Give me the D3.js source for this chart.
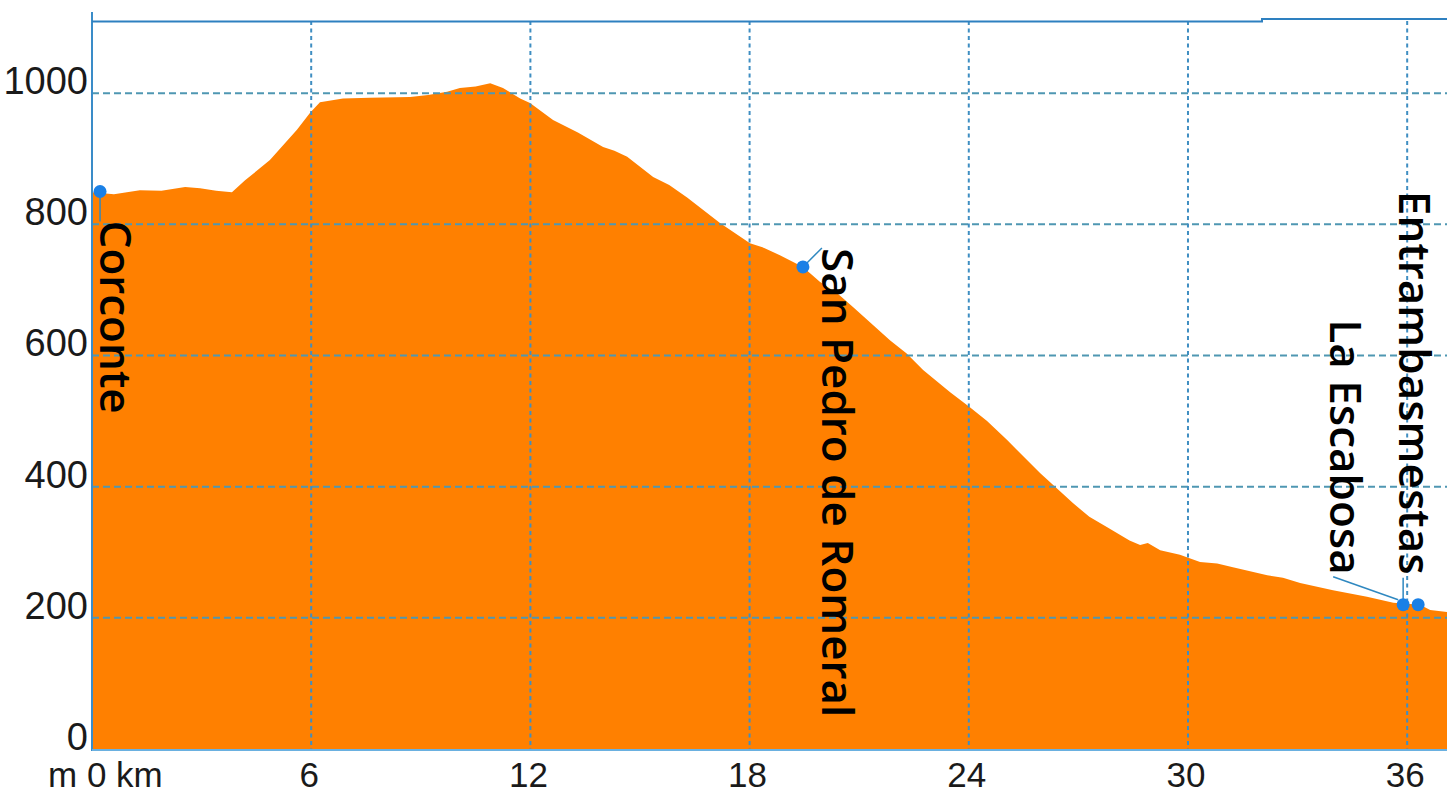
<!DOCTYPE html>
<html>
<head>
<meta charset="utf-8">
<script src="https://cdn.jsdelivr.net/npm/d3@7"></script>
<style>
  html, body { margin: 0; padding: 0; background: #ffffff; }
  svg { display: block; }
</style>
</head>
<body>
<svg id="chart" width="1447" height="794"></svg>
<script>
// ---- data ----
const distanceKm = [0, 0.6, 1.31, 1.9, 2.55, 2.96, 3.4, 3.83, 4.19, 4.87, 5.61, 5.97, 6.24, 6.87, 7.6, 8.71, 9.2, 9.72, 10.07, 10.5, 10.9, 11.25, 11.72, 11.99, 12.62, 13.3, 13.99, 14.3, 14.65, 15.36, 15.8, 16.29, 17.19, 18.01, 18.4, 18.83, 19.46, 19.93, 20.4, 20.83, 21.85, 22.3, 22.75, 23.49, 24.03, 24.5, 25.05, 25.95, 26.85, 27.3, 27.79, 28.4, 28.69, 28.9, 29.24, 29.78, 30.33, 30.8, 31.23, 32.17, 32.6, 33.07, 33.97, 34.9, 35.62, 36.35, 36.63, 37.09];
const elevationM = [849, 846, 852, 851, 857, 855, 851, 849, 867, 898, 944, 970, 986, 992, 993, 994, 997, 1002, 1008, 1010, 1015, 1008, 992, 985, 959, 940, 918, 912, 903, 872, 860, 841, 802, 771, 764, 753, 735, 712, 695, 674, 623, 603, 578, 544, 521, 500, 471, 421, 375, 354, 338, 318, 311, 314, 303, 296, 285, 283, 277, 265, 261, 253, 242, 232, 223, 220, 212, 209];
const yTicks = [0, 200, 400, 600, 800, 1000];
const yTickLabels = ["0", "200", "400", "600", "800", "1000"];
const xTicks = [0, 6, 12, 18, 24, 30, 36];
const xTickLabels = ["m 0 km", "6", "12", "18", "24", "30", "36"];
const placeNames = ["Corconte", "San Pedro de Romeral", "La Escabosa", "Entrambasmestas"];
const placeKm = [0.22, 19.46, 35.89, 36.3];
const placeElev = [850, 735, 220, 220];

// ---- layout ----
const W = 1447, H = 794;
const x = d3.scaleLinear().domain([0, 37.09]).range([92, 1447]);
const y = d3.scaleLinear().domain([0, 1110]).range([749, 21]);
const svg = d3.select("#chart");

const profile = distanceKm.map((d, i) => ({ km: d, m: elevationM[i] }));

// area fill
svg.append("path")
  .datum(profile)
  .attr("fill", "#ff8000")
  .attr("d", d3.area().x(d => x(d.km)).y0(y(0)).y1(d => y(d.m)));

// grid lines
svg.append("g").selectAll("line").data(yTicks.filter(t => t > 0)).join("line")
  .attr("x1", x(0)).attr("x2", W)
  .attr("y1", d => y(d)).attr("y2", d => y(d))
  .attr("stroke", "#4f97b2").attr("stroke-width", 2)
  .attr("stroke-dasharray", "7,4");
svg.append("g").selectAll("line").data(xTicks.filter(t => t > 0)).join("line")
  .attr("x1", d => x(d)).attr("x2", d => x(d))
  .attr("y1", y(1110)).attr("y2", y(0))
  .attr("stroke", "#3f8ec2").attr("stroke-width", 2)
  .attr("stroke-dasharray", "4,3.5");

// frame
svg.append("line").attr("x1", x(0)).attr("x2", x(0)).attr("y1", 12).attr("y2", 751)
  .attr("stroke", "#3a8cc8").attr("stroke-width", 2);
svg.append("path")
  .attr("d", `M${x(0)},${y(1110) + 0.5}H1262V${y(1110) - 2}H${W}`)
  .attr("fill", "none").attr("stroke", "#2e80c0").attr("stroke-width", 2);
svg.append("line").attr("x1", x(0)).attr("x2", W).attr("y1", y(0) + 1).attr("y2", y(0) + 1)
  .attr("stroke", "#6ab0e0").attr("stroke-width", 2);

// y tick labels
svg.append("g").selectAll("text").data(yTicks).join("text")
  .attr("x", 88).attr("y", d => y(d) + 1)
  .attr("text-anchor", "end")
  .attr("font-family", "Liberation Sans, Arial, sans-serif")
  .attr("font-size", 38).attr("fill", "#1a1a1a")
  .text((d, i) => yTickLabels[i]);

// x tick labels
svg.append("g").selectAll("text").data(xTicks).join("text")
  .attr("x", d => d === 0 ? x(d) - 44 : x(d) - 2)
  .attr("y", 787)
  .attr("text-anchor", d => d === 0 ? "start" : "middle")
  .attr("font-family", "Liberation Sans, Arial, sans-serif")
  .attr("font-size", 35).attr("fill", "#1a1a1a")
  .text((d, i) => xTickLabels[i]);

// place labels layout (pixel offsets from the marker)
const labelLayout = [
  { dx: 0, dy: 29, anchor: "start", lead: [[0, 0], [0, 30]] },
  { dx: 19, dy: -19, anchor: "start", lead: [[0, 0], [19, -19]] },
  { dx: -73, dy: -30, anchor: "end", lead: [[-5, -5], [-70, -28]] },
  { dx: -19, dy: -30, anchor: "end", lead: [[-15, -5], [-15, -27]] }
];
const places = placeNames.map((n, i) => ({ name: n, px: x(placeKm[i]), py: y(placeElev[i]), L: labelLayout[i] }));

// leader lines
svg.append("g").selectAll("line").data(places).join("line")
  .attr("x1", d => d.px + d.L.lead[0][0]).attr("y1", d => d.py + d.L.lead[0][1])
  .attr("x2", d => d.px + d.L.lead[1][0]).attr("y2", d => d.py + d.L.lead[1][1])
  .attr("stroke", "#2f88c0").attr("stroke-width", 1.5);

// markers
svg.append("g").selectAll("circle").data(places).join("circle")
  .attr("cx", d => d.px).attr("cy", d => d.py).attr("r", 6.5)
  .attr("fill", "#1a80e6");

// labels
svg.append("g").selectAll("text").data(places).join("text")
  .attr("transform", d => `translate(${d.px + d.L.dx},${d.py + d.L.dy}) rotate(90)`)
  .attr("text-anchor", d => d.L.anchor)
  .attr("font-family", "Open Sans, Noto Sans, sans-serif")
  .attr("font-weight", 600)
  .attr("font-size", 44).attr("fill", "#000")
  .text(d => d.name);
</script>
</body>
</html>
